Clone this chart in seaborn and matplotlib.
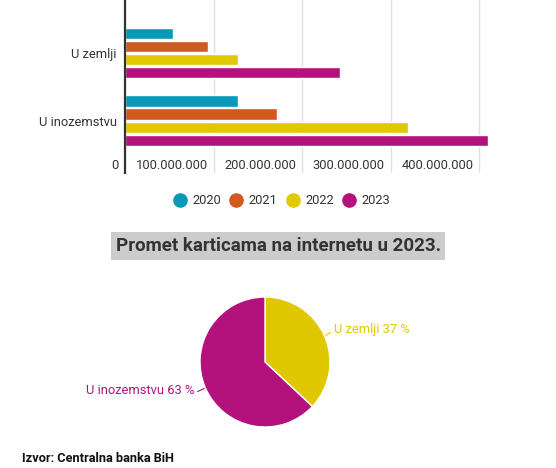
import numpy as np
import pandas as pd
import matplotlib
matplotlib.use("Agg")
import matplotlib.pyplot as plt
import matplotlib.transforms as mtransforms
from matplotlib.lines import Line2D
from matplotlib.ticker import FuncFormatter
import seaborn as sns

# podaci
kategorije = ["U zemlji", "U inozemstvu"]
godine = ["2020", "2021", "2022", "2023"]
u_zemlji = [54e6, 94e6, 128e6, 243e6]
u_inozemstvu = [128e6, 172e6, 320e6, 410e6]
x_ticks = [0, 100e6, 200e6, 300e6, 400e6]

pie_labels = ["U zemlji", "U inozemstvu"]
pie_shares = [37, 63]

boje = ["#0a98b8", "#d25a1e", "#e2c800", "#b3127d"]
pie_boje = ["#e0c800", "#b3127d"]

naslov = "Promet karticama na internetu u 2023."
izvor = "Izvor: Centralna banka BiH"

sns.set_style("white")
plt.rcParams["font.family"] = ["Roboto", "DejaVu Sans"]

rows = []
for kat, vals in zip(kategorije, [u_zemlji, u_inozemstvu]):
    for g, v in zip(godine, vals):
        rows.append({"kategorija": kat, "godina": g, "vrijednost": v})
df = pd.DataFrame(rows)

W, H = 556, 468
fig = plt.figure(figsize=(W / 100, H / 100), dpi=100)
fig.patch.set_facecolor("white")

# bar chart
ax = fig.add_axes([125 / W, 1 - 173 / H, (497 - 125) / W, 173 / H])
sns.barplot(data=df, y="kategorija", x="vrijednost", hue="godina",
            palette=boje, orient="h", width=0.78, gap=0.14,
            legend=False, ax=ax, saturation=1)
ax.set_xlim(0, 420e6)
ax.set_ylim(1.775, -0.784)
ax.set_xlabel("")
ax.set_ylabel("")
ax.set_xticks(x_ticks)
ax.xaxis.set_major_formatter(FuncFormatter(lambda v, p: f"{int(v):,}".replace(",", ".")))
ax.grid(axis="x", color="#e0e0e0", lw=1)
ax.set_axisbelow(True)
for s in ["top", "right", "bottom"]:
    ax.spines[s].set_visible(False)
ax.spines["left"].set_color("#333333")
ax.spines["left"].set_linewidth(1.6)
ax.tick_params(axis="x", length=0, pad=-10, labelsize=9.3, labelcolor="#333333")
ax.tick_params(axis="y", which="major", length=0, pad=6, labelsize=9.3, labelcolor="#333333")
ax.set_yticks([-0.5, 0.5, 1.5], minor=True)
ax.tick_params(axis="y", which="minor", length=58.5, width=1, color="#777777")
offset = mtransforms.ScaledTranslation(-6 / 100, 0, fig.dpi_scale_trans)
for lab in ax.get_xticklabels():
    lab.set_horizontalalignment("right")
    lab.set_transform(lab.get_transform() + offset)

# legenda
handles = [Line2D([], [], marker="o", ls="none", markersize=9.5,
                  markerfacecolor=c, markeredgecolor=c) for c in boje]
fig.legend(handles, godine, loc="center", bbox_to_anchor=(282 / W, 1 - 201 / H),
           ncol=4, frameon=False, fontsize=9.3, handlelength=1.0,
           handletextpad=0.45, columnspacing=0.7, labelcolor="#333333")

# naslov
fig.text(278 / W, 1 - 246 / H, naslov, ha="center", va="center",
         fontsize=13.5, fontweight="bold", color="#333333",
         bbox=dict(boxstyle="square,pad=0.25", facecolor="#cccccc", edgecolor="none"))

# pie
R = 65
half = R * 1.25
pax = fig.add_axes([(265 - half) / W, 1 - (362 + half) / H, 2 * half / W, 2 * half / H])
wedges, _ = pax.pie(pie_shares, colors=pie_boje, startangle=90, counterclock=False,
                    wedgeprops=dict(edgecolor="white", linewidth=1))
pax.set_xlim(-1.25, 1.25)
pax.set_ylim(-1.25, 1.25)
pax.set_aspect("equal")
for w, lab, val, c in zip(wedges, pie_labels, pie_shares, pie_boje):
    ang = np.deg2rad((w.theta1 + w.theta2) / 2)
    x, y = np.cos(ang), np.sin(ang)
    tx, ty = 1.17 * np.cos(ang + np.sign(x) * 0.03), 1.17 * np.sin(ang + np.sign(x) * 0.03)
    pax.annotate(f"{lab} {val} %", xy=(x, y), xytext=(tx, ty),
                 ha="left" if x > 0 else "right", va="center",
                 fontsize=9.3, color=c, annotation_clip=False,
                 arrowprops=dict(arrowstyle="-", color=c, lw=0.8,
                                 shrinkA=0, shrinkB=1,
                                 connectionstyle="arc3,rad=0.25"))

# izvor
fig.text(22 / W, 1 - 459 / H, izvor, ha="left", va="center",
         fontsize=9.2, fontweight="bold", color="#111111")

fig.savefig("out.png", dpi=100, facecolor="white")
